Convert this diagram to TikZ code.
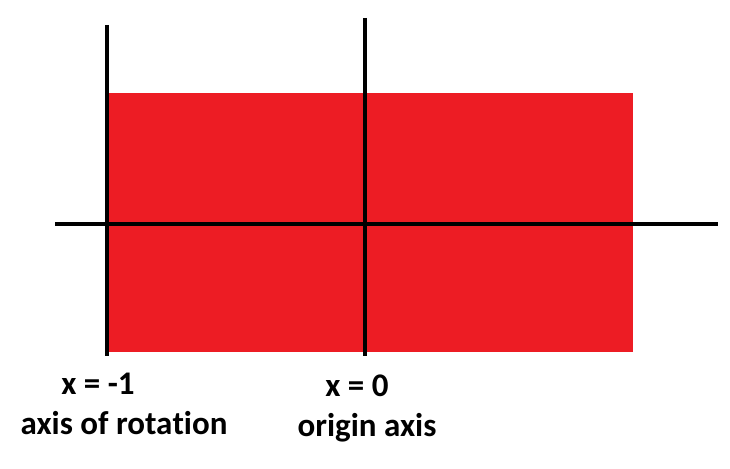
\documentclass[tikz,border=0pt]{standalone}
\usepackage{fontspec}
\setmainfont{Carlito}[Ligatures=NoCommon]
\usepackage{tikz}
\usetikzlibrary{positioning}
\definecolor{paintred}{HTML}{ED1C24}

\begin{document}
\begin{tikzpicture}[
  x=1pt, y=-1pt,
  % Styles
  axisline/.style={
    draw=black,
    line width=4.6pt,
  },
  label/.style={
    anchor=base,
    inner sep=0pt,
    font=\fontsize{33}{38}\selectfont\bfseries,
  },
]

% ── Canvas ──
\useasboundingbox (0,0) rectangle (730,468);

% ── Red region ──
\fill[paintred] (107,93) rectangle (633,352);

% ── Axes ──
\coordinate (rotTop) at (107,25);
\coordinate (rotBot) at (107,356);
\coordinate (origTop) at (365,18);
\coordinate (origBot) at (365,356);
\coordinate (hLeft) at (55,224);
\coordinate (hRight) at (718,224);

\draw[axisline] (hLeft) -- (hRight);
\draw[axisline] (rotTop) -- (rotBot);
\draw[axisline] (origTop) -- (origBot);

% ── Labels ──
\node[label] (rotEq) at (98,394) {x = -1};
\node[label] (rotName) at (124,434) {axis of rota\kern0pt tion};
\node[label] (origEq) at (357,396) {x = 0};
\node[label] (origName) at (367,436) {origin axis};

\end{tikzpicture}
\end{document}
